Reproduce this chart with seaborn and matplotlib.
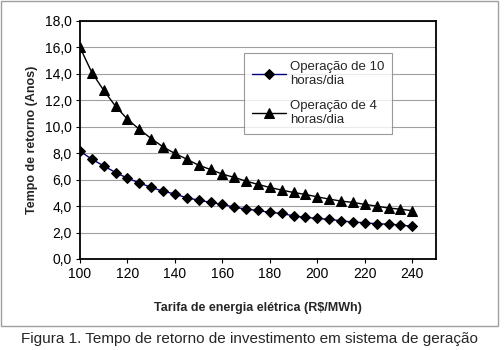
import pandas as pd
import matplotlib.pyplot as plt
import seaborn as sns
from matplotlib.patches import Rectangle

# Data
tarifa = list(range(100, 245, 5))
horas_10 = [8.15, 7.55, 7.04, 6.54, 6.11, 5.76, 5.41, 5.13, 4.91, 4.63,
            4.45, 4.28, 4.13, 3.92, 3.77, 3.67, 3.52, 3.45, 3.25, 3.15,
            3.07, 3.00, 2.89, 2.79, 2.74, 2.66, 2.64, 2.57, 2.47]
horas_4 = [16.0, 14.1, 12.75, 11.55, 10.57, 9.81, 9.11, 8.48, 7.98, 7.55,
           7.09, 6.77, 6.42, 6.17, 5.89, 5.64, 5.41, 5.21, 5.03, 4.88,
           4.70, 4.53, 4.38, 4.28, 4.13, 4.00, 3.85, 3.77, 3.65]
y_ticks = [0, 2, 4, 6, 8, 10, 12, 14, 16, 18]
x_ticks = [100, 120, 140, 160, 180, 200, 220, 240]

sns.set_style("white")
plt.rcParams['font.family'] = ['Liberation Sans', 'DejaVu Sans']

fig = plt.figure(figsize=(5.04, 3.5), dpi=100)
ax = fig.add_axes([80 / 504, 1 - 259 / 350, 356 / 504, 238 / 350])

sns.lineplot(x=tarifa, y=horas_10, ax=ax, color='#000080', lw=1.0,
             marker='D', markersize=5.5, markerfacecolor='black', markeredgecolor='black',
             label='Operação de 10\nhoras/dia')
sns.lineplot(x=tarifa, y=horas_4, ax=ax, color='black', lw=1.0,
             marker='^', markersize=7, markerfacecolor='black', markeredgecolor='black',
             label='Operação de 4\nhoras/dia')

ax.set_xlim(100, 250)
ax.set_ylim(0, 18)
ax.set_xticks(x_ticks)
ax.set_yticks(y_ticks)
ax.set_yticklabels([f"{v:.1f}".replace('.', ',') for v in y_ticks])
ax.tick_params(axis='both', labelsize=10, direction='out', length=3, width=0.8,
               pad=3, left=True, bottom=True, colors='black')
ax.grid(axis='y', color='#a0a0a0', lw=0.8)
ax.set_axisbelow(True)
for s in ax.spines.values():
    s.set_color('black')
    s.set_linewidth(1.3)

ax.set_xlabel('Tarifa de energia elétrica (R$/MWh)', fontsize=9, fontweight='bold', labelpad=15)
ax.set_ylabel('Tempo de retorno (Anos)', fontsize=9, fontweight='bold', labelpad=5)

leg = ax.legend(loc='upper left', bbox_to_anchor=((244 - 80) / 356, (259 - 53) / 238),
                fontsize=9.5, frameon=True, fancybox=False, handlelength=2.6,
                borderpad=0.6, labelspacing=1.0, handletextpad=0.3, borderaxespad=0)
leg.get_frame().set_edgecolor('#808080')
leg.get_frame().set_linewidth(0.8)

# outer chart border
fig.patches.append(Rectangle((1 / 504, 1 - 326 / 350), 497 / 504, 325 / 350,
                             transform=fig.transFigure, fill=False,
                             edgecolor='#a0a0a0', lw=1.0))

fig.text(21 / 504, 1 - 339 / 350, 'Figura 1. Tempo de retorno de investimento em sistema de geração',
         fontsize=11, va='center', ha='left')

fig.savefig('out.png', dpi=100)
